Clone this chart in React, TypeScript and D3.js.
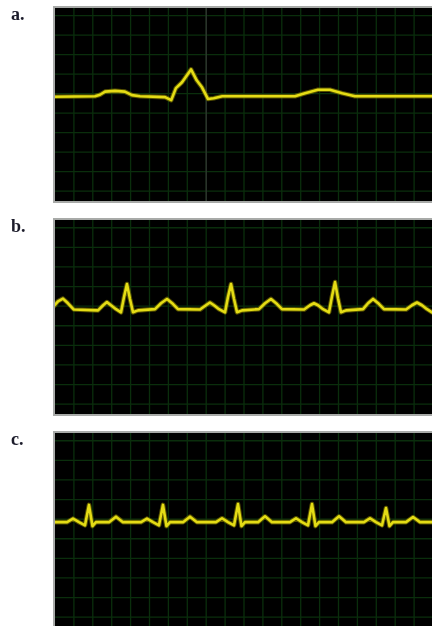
import React from "react";
import * as d3 from "d3";

// time (s), amplitude (mV)
const traceA: [number, number][] = [
  [0, 0], [0.434, 0.01], [0.487, 0.05], [0.54, 0.13], [0.645, 0.15], [0.75, 0.13],
  [0.825, 0.04], [0.91, 0.01], [1.175, -0.01], [1.24, -0.09], [1.29, 0.22],
  [1.355, 0.37], [1.45, 0.7], [1.51, 0.42], [1.566, 0.24], [1.63, -0.06],
  [1.69, -0.04], [1.78, 0.01], [2.55, 0.01], [2.656, 0.09], [2.794, 0.18],
  [2.92, 0.18], [3.05, 0.09], [3.185, 0.01], [4.0, 0.01],
];

const traceB: [number, number][] = [
  [0, 0.08], [0.042, 0.2], [0.095, 0.27], [0.148, 0.15], [0.21, -0.01],
  [0.466, -0.03], [0.52, 0.1], [0.56, 0.18], [0.603, 0.1], [0.656, 0],
  [0.709, -0.08], [0.741, 0.31], [0.772, 0.64], [0.804, 0.26], [0.836, -0.08],
  [0.889, -0.03], [1.069, 0], [1.132, 0.15], [1.196, 0.26], [1.26, 0.13],
  [1.312, 0], [1.545, -0.01], [1.608, 0.1], [1.65, 0.17], [1.693, 0.1],
  [1.746, 0], [1.81, -0.08], [1.841, 0.31], [1.873, 0.64], [1.905, 0.26],
  [1.937, -0.08], [1.99, -0.03], [2.169, 0], [2.233, 0.15], [2.296, 0.26],
  [2.36, 0.13], [2.413, 0], [2.646, -0.01], [2.709, 0.1], [2.751, 0.15],
  [2.794, 0.1], [2.847, 0], [2.91, -0.08], [2.942, 0.33], [2.974, 0.69],
  [3.005, 0.28], [3.037, -0.08], [3.09, -0.03], [3.27, 0], [3.323, 0.15],
  [3.376, 0.26], [3.44, 0.13], [3.492, 0], [3.725, -0.01], [3.788, 0.1],
  [3.841, 0.17], [3.894, 0.1], [3.947, 0], [4.0, -0.08],
];

const traceC: [number, number][] = [
  [0, 0], [0.138, 0], [0.201, 0.09], [0.265, 0], [0.328, -0.08], [0.37, 0.44],
  [0.407, -0.1], [0.444, 0], [0.582, 0], [0.656, 0.14], [0.73, 0],
  [0.921, 0], [0.984, 0.09], [1.048, 0], [1.111, -0.08], [1.153, 0.44],
  [1.19, -0.1], [1.228, 0], [1.365, 0], [1.439, 0.14], [1.513, 0],
  [1.714, 0], [1.778, 0.1], [1.841, 0], [1.905, -0.08], [1.947, 0.46],
  [1.984, -0.1], [2.021, 0], [2.159, 0], [2.233, 0.15], [2.307, 0],
  [2.497, 0], [2.561, 0.1], [2.624, 0], [2.688, -0.08], [2.73, 0.46],
  [2.767, -0.1], [2.804, 0], [2.942, 0], [3.016, 0.15], [3.09, 0],
  [3.28, 0], [3.344, 0.1], [3.407, 0], [3.471, -0.08], [3.513, 0.36],
  [3.55, -0.1], [3.587, 0], [3.725, 0], [3.799, 0.13], [3.873, 0], [4.0, 0],
];

const labels = ["a.", "b.", "c."];
const timeGrid = d3.range(0.2, 4, 0.2);
const ampGrid = [2.0, 1.5, 1.0, 0.5, 0, -0.5, -1.0, -1.5, -2.0, -2.5];

const panels = [
  { label: labels[0], data: traceA, top: 7, height: 195, marker: 1.6 },
  { label: labels[1], data: traceB, top: 219, height: 196, marker: null },
  { label: labels[2], data: traceC, top: 432, height: 196, marker: null },
];

const left = 54;
const right = 432;

function Panel({ p, i }: { p: (typeof panels)[number]; i: number }) {
  const x = d3.scaleLinear().domain([0, 4]).range([left, right]);
  const y = d3.scaleLinear().domain([-2.7, 2.3]).range([p.top + p.height, p.top]);
  const line = d3
    .line<[number, number]>()
    .x((d) => x(d[0]))
    .y((d) => y(d[1]));
  const path = line(p.data) || "";
  return (
    <g>
      <text
        x={11}
        y={p.top + 13}
        fontFamily="Liberation Serif, serif"
        fontWeight="bold"
        fontSize={18}
        fill="#1c1c2c"
        filter="url(#soft)"
      >
        {p.label}
      </text>
      <rect x={left} y={p.top} width={right - left + 2} height={p.height} fill="#000" stroke="#a8aaa8" strokeWidth={2} />
      <clipPath id={"clip" + i}>
        <rect x={left + 1} y={p.top + 1} width={right - left} height={p.height - 2} />
      </clipPath>
      <g clipPath={`url(#clip${i})`}>
        {timeGrid.map((t) => (
          <line key={"v" + t} x1={x(t) + 1} x2={x(t) + 1} y1={p.top} y2={p.top + p.height} stroke="#0a2e0c" strokeWidth={1.3} />
        ))}
        {ampGrid.map((v) => (
          <line key={"h" + v} x1={left} x2={right} y1={y(v) - 3} y2={y(v) - 3} stroke="#0a2e0c" strokeWidth={1.3} />
        ))}
        {p.marker !== null && (
          <line x1={x(p.marker) + 1} x2={x(p.marker) + 1} y1={p.top} y2={p.top + p.height} stroke="#343734" strokeWidth={1.2} />
        )}
        <g filter="url(#soft)">
          <path d={path} fill="none" stroke="#7a7400" strokeOpacity={0.7} strokeWidth={4.6} strokeLinejoin="round" strokeLinecap="round" />
          <path d={path} fill="none" stroke="#e4dc12" strokeWidth={2.6} strokeLinejoin="round" strokeLinecap="round" />
        </g>
      </g>
    </g>
  );
}

export default function App() {
  return (
    <svg width={432} height={626} style={{ position: "absolute", left: 0, top: 0, background: "#fff" }}>
      <defs>
        <filter id="soft" x="-5%" y="-20%" width="110%" height="140%">
          <feGaussianBlur stdDeviation={0.6} />
        </filter>
      </defs>
      {panels.map((p, i) => (
        <Panel key={p.label} p={p} i={i} />
      ))}
    </svg>
  );
}
